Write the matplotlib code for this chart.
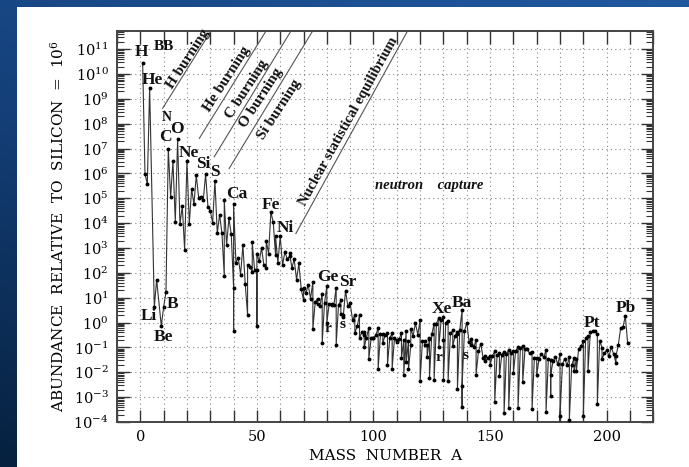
import numpy as np
import matplotlib
matplotlib.use("Agg")
import matplotlib.pyplot as plt
from matplotlib.colors import LinearSegmentedColormap
from matplotlib.patches import Rectangle
from matplotlib.ticker import LogLocator, MultipleLocator, LogFormatterMathtext, NullFormatter

plt.rcParams["font.family"] = ["DejaVu Serif"]
plt.rcParams["mathtext.fontset"] = "dejavuserif"

# isotopes in order of mass number (isobars listed by increasing Z)
A = [1, 2, 3, 4, 6, 7, 9, 10, 11, 12, 13, 14, 15, 16, 17, 18, 19, 20, 21, 22,
     23, 24, 25, 26, 27, 28, 29, 30, 31, 32, 33, 34, 35, 36, 36, 37, 38, 39, 40, 40,
     40, 41, 42, 43, 44, 45, 46, 46, 47, 48, 48, 49, 50, 50, 50, 51, 52, 53, 54, 54,
     55, 56, 57, 58, 58, 59, 60, 61, 62, 63, 64, 64, 65, 66, 67, 68, 69, 70, 70, 71,
     72, 73, 74, 74, 75, 76, 76, 77, 78, 78, 79, 80, 80, 81, 82, 82, 83, 84, 84, 85,
     86, 86, 87, 87, 88, 89, 90, 91, 92, 92, 93, 94, 94, 95, 96, 96, 96, 97, 98, 98,
     99, 100, 100, 101, 102, 102, 103, 104, 104, 105, 106, 106, 107, 108, 108, 109, 110, 110, 111, 112,
     112, 113, 113, 114, 114, 115, 115, 116, 116, 117, 118, 119, 120, 120, 121, 122, 122, 123, 123, 124,
     124, 124, 125, 126, 126, 127, 128, 128, 129, 130, 130, 130, 131, 132, 132, 133, 134, 134, 135, 136,
     136, 136, 137, 138, 138, 138, 139, 140, 141, 142, 142, 143, 144, 144, 145, 146, 147, 148, 148, 149,
     150, 150, 151, 152, 152, 153, 154, 154, 155, 156, 156, 157, 158, 158, 159, 160, 160, 161, 162, 162,
     163, 164, 164, 165, 166, 167, 168, 168, 169, 170, 170, 171, 172, 173, 174, 174, 175, 176, 176, 176,
     177, 178, 179, 180, 180, 180, 181, 182, 183, 184, 184, 185, 186, 186, 187, 187, 188, 189, 190, 190,
     191, 192, 192, 193, 194, 195, 196, 196, 197, 198, 198, 199, 200, 201, 202, 203, 204, 204, 205, 206,
     207, 208, 209]
ABUND = [2.79e10, 9.5e5, 3.86e5, 2.72e9, 4.2, 52.9, 0.73, 4.2, 17.0, 9.9e6, 1.1e5, 3.12e6, 1.15e4, 2.37e7, 9.0e3, 4.8e4, 843, 3.2e6, 9.3e3, 2.4e5,
         5.74e4, 8.5e5, 1.07e5, 1.18e5, 8.49e4, 9.22e5, 4.67e4, 3.1e4, 1.04e4, 4.89e5, 3.9e3, 2.2e4, 3.9e3, 77, 8.5e4, 1.3e3, 1.6e4, 3.5e3, 25, 0.44,
         5.9e4, 260, 410, 85, 1.3e3, 34.2, 2.0, 200, 180, 110, 1.8e3, 130, 130, 0.73, 590, 290, 1.0e3, 200, 150, 2.0e3,
         600, 2.8e4, 1.1e4, 500, 3.0e3, 250, 3.0e3, 200, 700, 360, 460, 610, 160, 350, 52, 240, 22.6, 7.8, 24.4, 15.0,
         32.6, 9.2, 43.5, 0.55, 6.56, 9.2, 5.5, 4.7, 14.6, 0.15, 6.0, 31, 1.0, 5.8, 5.5, 5.2, 5.2, 25.5, 0.13, 5.1,
         7.8, 2.3, 2.0, 1.6, 19.4, 4.64, 5.9, 1.3, 1.95, 0.38, 0.70, 2.0, 0.24, 0.41, 0.32, 0.43, 0.10, 0.25, 0.62, 0.035,
         0.24, 0.25, 0.23, 0.32, 0.59, 0.014, 0.344, 0.35, 0.15, 0.31, 0.38, 0.020, 0.25, 0.37, 0.014, 0.235, 0.16, 0.20, 0.21, 0.39,
         0.037, 0.20, 0.0079, 0.46, 0.025, 0.176, 0.013, 0.12, 0.56, 0.30, 0.93, 0.33, 1.25, 0.0046, 0.18, 0.18, 0.12, 0.13, 0.043, 0.22,
         0.23, 0.0057, 0.34, 0.91, 0.0051, 0.90, 1.53, 0.10, 1.24, 1.63, 0.20, 0.0047, 1.00, 1.21, 0.0045, 0.372, 0.48, 0.11, 0.30, 0.40,
         0.35, 0.0021, 0.50, 3.22, 0.0004, 0.0028, 0.446, 1.0, 0.167, 0.13, 0.22, 0.10, 0.20, 0.008, 0.069, 0.14, 0.039, 0.047, 0.029, 0.036,
         0.046, 0.019, 0.047, 0.069, 0.00066, 0.051, 0.059, 0.0072, 0.049, 0.068, 0.00022, 0.052, 0.082, 0.00038, 0.0603, 0.072, 0.0092, 0.075, 0.10, 0.00035,
         0.098, 0.11, 0.0040, 0.0889, 0.084, 0.057, 0.067, 0.00032, 0.0378, 0.037, 0.0076, 0.035, 0.054, 0.040, 0.079, 0.00025, 0.0356, 0.032, 0.0011, 0.0081,
         0.028, 0.042, 0.021, 0.054, 2.5e-6, 0.00017, 0.0207, 0.035, 0.019, 0.041, 0.00012, 0.019, 0.038, 0.011, 0.033, 0.011, 0.090, 0.11, 0.18, 0.00017,
         0.25, 0.28, 0.011, 0.42, 0.44, 0.45, 0.34, 0.00051, 0.187, 0.097, 0.034, 0.057, 0.078, 0.045, 0.10, 0.054, 0.023, 0.044, 0.13, 0.60,
         0.65, 1.86, 0.144]

# element labels: (text, A, abundance, fontsize)
ELEM = [("H", 0.6, 7.4e10, 12.5), ("BB", 10.0, 1.26e11, 11), ("He", 5.3, 5.8e9, 12.5),
        ("N", 11.4, 1.8e8, 10), ("O", 15.6, 6.3e7, 12.5), ("C", 10.7, 2.8e7, 12.5),
        ("Ne", 21.0, 6.5e6, 12.5), ("Si", 27.1, 2.3e6, 12.5), ("S", 32.1, 1.15e6, 12.5),
        ("Ca", 41.3, 1.5e5, 12.5), ("Fe", 56.0, 5.2e4, 12.5), ("Ni", 62.2, 6.5e3, 12.5),
        ("Li", 3.6, 1.8, 12.5), ("Be", 9.9, 0.26, 12.5), ("B", 13.8, 5.4, 12.5),
        ("Ge", 80.3, 68, 12.5), ("Sr", 88.9, 43, 12.5), ("Xe", 129.3, 3.6, 12.5),
        ("Ba", 138.1, 6.2, 12.5), ("Pt", 193.9, 0.95, 12.5), ("Pb", 208.2, 4.0, 12.5)]
RS = [("r", 80.3, 0.56), ("s", 86.7, 0.85), ("r", 127.9, 0.039), ("s", 139.6, 0.048)]

# burning-stage dividers: (A0, abund0, A1, abund1)
DIVIDERS = [(9.56, 10**8.62, 30.3, 10**11.73), (25.3, 10**7.41, 53.9, 10**11.73),
            (31.7, 10**6.67, 64.6, 10**11.73), (38.1, 10**6.20, 73.9, 10**11.73),
            (66.7, 10**3.58, 114.6, 10**11.73)]
STAGES = [("H burning", 20.6, 10**10.60, 57, 11), ("He burning", 37.3, 10**9.80, 57, 11),
          ("C burning", 45.9, 10**9.40, 57, 11), ("O burning", 51.9, 10**9.03, 57, 11),
          ("Si burning", 59.6, 10**8.59, 57, 11),
          ("Nuclear statistical equilibrium", 89.2, 10**8.10, 61, 10.5)]

fig = plt.figure(figsize=(6.89, 4.67), dpi=100)

# blue slide background with a white panel
bg = fig.add_axes([0, 0, 1, 1])
yy, xx = np.mgrid[0:1:200j, 0:1:200j]
grad = 0.65 * yy + 0.35 * xx
cmap = LinearSegmentedColormap.from_list("slide", ["#06213f", "#143f78", "#2059a0"])
bg.imshow(grad, cmap=cmap, extent=[0, 1, 0, 1], origin="lower", aspect="auto")
bg.add_patch(Rectangle((17 / 689, 0), 1, 1 - 7 / 467, transform=bg.transAxes,
                       facecolor="white", edgecolor="none"))
bg.set_xlim(0, 1); bg.set_ylim(0, 1); bg.axis("off")

ax = fig.add_axes([117 / 689, 1 - 422 / 467, 536.3 / 689, 391 / 467])
ax.set_facecolor("white")
ax.plot(A, ABUND, "-", color="#333333", lw=0.8, marker="o", ms=1.8, mfc="black", mec="black", zorder=3)
ax.set_yscale("log")
ax.set_xlim(-10, 220)
ax.set_ylim(1e-4, 10**11.73)

ax.xaxis.set_major_locator(MultipleLocator(50))
ax.xaxis.set_minor_locator(MultipleLocator(10))
ax.yaxis.set_major_locator(LogLocator(base=10, numticks=30))
ax.yaxis.set_minor_locator(LogLocator(base=10, subs=np.arange(2, 10), numticks=30))
ax.yaxis.set_major_formatter(LogFormatterMathtext())
ax.yaxis.set_minor_formatter(NullFormatter())
ax.tick_params(which="both", direction="in", top=True, right=True, color="#333333")
ax.tick_params(which="major", length=9, width=1.0, labelsize=10.5, pad=6)
ax.tick_params(axis="x", which="minor", length=9, width=1.0)
ax.tick_params(axis="y", which="minor", length=5, width=0.8)
ax.grid(True, which="major", axis="y", ls=(0, (1, 3)), color="#888888", lw=0.8)
ax.grid(True, which="both", axis="x", ls=(0, (1, 3)), color="#888888", lw=0.8)
for s in ax.spines.values():
    s.set_linewidth(1.4); s.set_color("#444444")

ax.set_xlabel("MASS  NUMBER  A", fontsize=11, labelpad=3)
ax.set_ylabel(r"ABUNDANCE  RELATIVE  TO  SILICON  =  10$^6$", fontsize=11, labelpad=5)

lab = dict(family=["Liberation Serif", "DejaVu Serif"], fontweight="bold", color="#111111", zorder=5)
for t, x, y, fs in ELEM:
    ax.text(x, y, t, ha="center", va="center", fontsize=fs, **lab)
for t, x, y in RS:
    ax.text(x, y, t, ha="center", va="center", fontsize=11, **lab)

for x0, y0, x1, y1 in DIVIDERS:
    ax.plot([x0, x1], [y0, y1], color="#555555", lw=0.8, zorder=2)
for t, x, y, rot, fs in STAGES:
    ax.text(x, y, t, rotation=rot, rotation_mode="anchor", ha="center", va="center",
            fontsize=fs, **lab)

ax.text(123.9, 10**5.53, "neutron    capture", ha="center", va="center", fontsize=10.5,
        style="italic", **lab)

fig.savefig("out.png", dpi=100)
